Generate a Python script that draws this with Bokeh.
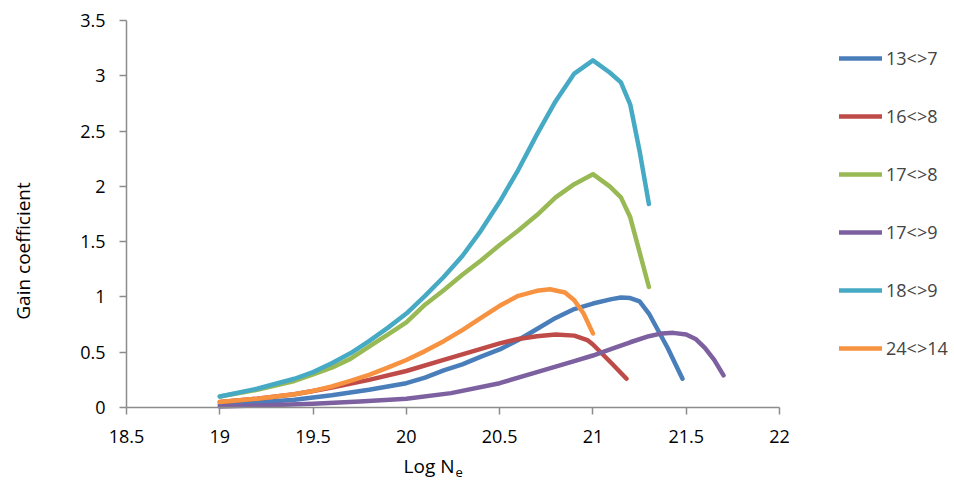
import math
from bokeh.plotting import figure
from bokeh.models import Range1d, Legend, LegendItem, Label, FixedTicker
from bokeh.embed import file_html
from bokeh.resources import INLINE

# ---- data ----
x_13_7 = [19.0, 19.2, 19.4, 19.5, 19.6, 19.8, 20.0, 20.1, 20.2, 20.3, 20.4, 20.5, 20.6, 20.7, 20.8, 20.9, 21.0, 21.1, 21.15, 21.2, 21.25, 21.3, 21.4, 21.48]
y_13_7 = [0.025, 0.045, 0.07, 0.09, 0.11, 0.16, 0.22, 0.27, 0.335, 0.39, 0.46, 0.525, 0.61, 0.71, 0.81, 0.89, 0.94, 0.98, 0.995, 0.99, 0.96, 0.85, 0.54, 0.26]

x_16_8 = [19.0, 19.2, 19.4, 19.5, 19.6, 19.8, 20.0, 20.2, 20.3, 20.4, 20.5, 20.6, 20.7, 20.8, 20.9, 20.97, 21.0, 21.1, 21.18]
y_16_8 = [0.05, 0.08, 0.12, 0.15, 0.18, 0.25, 0.33, 0.43, 0.48, 0.53, 0.58, 0.62, 0.645, 0.66, 0.65, 0.61, 0.57, 0.40, 0.26]

x_17_8 = [19.0, 19.2, 19.4, 19.5, 19.6, 19.7, 19.8, 19.9, 20.0, 20.1, 20.2, 20.3, 20.4, 20.5, 20.6, 20.7, 20.8, 20.9, 21.0, 21.09, 21.15, 21.2, 21.3]
y_17_8 = [0.10, 0.16, 0.24, 0.30, 0.36, 0.44, 0.55, 0.66, 0.77, 0.93, 1.06, 1.20, 1.33, 1.47, 1.60, 1.74, 1.90, 2.02, 2.11, 2.0, 1.9, 1.72, 1.09]

x_17_9 = [19.0, 19.25, 19.5, 19.75, 20.0, 20.24, 20.5, 20.7, 20.8, 20.9, 21.0, 21.1, 21.2, 21.3, 21.37, 21.43, 21.5, 21.55, 21.6, 21.65, 21.7]
y_17_9 = [0.01, 0.02, 0.035, 0.055, 0.08, 0.13, 0.22, 0.32, 0.37, 0.42, 0.47, 0.53, 0.59, 0.645, 0.67, 0.675, 0.66, 0.62, 0.54, 0.43, 0.29]

x_18_9 = [19.0, 19.2, 19.4, 19.5, 19.6, 19.7, 19.8, 19.9, 20.0, 20.1, 20.2, 20.3, 20.4, 20.5, 20.6, 20.7, 20.8, 20.9, 21.0, 21.09, 21.15, 21.2, 21.25, 21.3]
y_18_9 = [0.10, 0.17, 0.26, 0.32, 0.40, 0.49, 0.60, 0.72, 0.85, 1.01, 1.18, 1.37, 1.60, 1.86, 2.15, 2.47, 2.77, 3.02, 3.14, 3.03, 2.94, 2.74, 2.32, 1.84]

x_24_14 = [19.0, 19.2, 19.4, 19.5, 19.6, 19.7, 19.8, 19.9, 20.0, 20.1, 20.2, 20.3, 20.4, 20.5, 20.6, 20.7, 20.77, 20.85, 20.9, 20.95, 21.0]
y_24_14 = [0.05, 0.08, 0.12, 0.15, 0.19, 0.24, 0.295, 0.36, 0.43, 0.51, 0.60, 0.70, 0.81, 0.92, 1.01, 1.055, 1.07, 1.04, 0.97, 0.85, 0.67]

series_names = ["13<>7", "16<>8", "17<>8", "17<>9", "18<>9", "24<>14"]
series_x = [x_13_7, x_16_8, x_17_8, x_17_9, x_18_9, x_24_14]
series_y = [y_13_7, y_16_8, y_17_8, y_17_9, y_18_9, y_24_14]
colors = ["#4a7ebb", "#be4b48", "#98b954", "#7d60a0", "#46aac5", "#f69240"]

x_ticks = [18.5, 19, 19.5, 20, 20.5, 21, 21.5, 22]
y_ticks = [0, 0.5, 1, 1.5, 2, 2.5, 3, 3.5]
x_axis_span = (18.5, 22)
y_axis_span = (0, 3.5)

FONT = "Open Sans"
AXIS_COLOR = "#8c8c8c"

# ---- layout (pixels of the plotting area) ----
W, H = 954, 480
AX_LEFT, AX_RIGHT, AX_TOP, AX_BOTTOM = 126, 779, 20, 407
sx = (AX_RIGHT - AX_LEFT) / (x_axis_span[1] - x_axis_span[0])
sy = (AX_BOTTOM - AX_TOP) / (y_axis_span[1] - y_axis_span[0])
x_start = x_axis_span[0] - AX_LEFT / sx
x_end = x_axis_span[0] + (W - AX_LEFT) / sx
y_start = y_axis_span[0] - (H - AX_BOTTOM) / sy
y_end = y_axis_span[1] + AX_TOP / sy


def px_to_x(px):
    return x_start + px / sx


def px_to_y(py):
    return y_start + (H - py) / sy


p = figure(width=W, height=H, output_backend="svg", toolbar_location=None,
           x_range=Range1d(x_start, x_end), y_range=Range1d(y_start, y_end),
           min_border=0, min_border_left=0, min_border_right=0,
           min_border_top=0, min_border_bottom=0)
p.outline_line_color = None
p.xgrid.visible = False
p.ygrid.visible = False
p.background_fill_color = "white"
p.border_fill_color = "white"

for ax in (p.xaxis[0], p.yaxis[0]):
    ax.axis_line_color = AXIS_COLOR
    ax.axis_line_width = 1.5
    ax.major_tick_line_color = AXIS_COLOR
    ax.major_tick_line_width = 1.5
    ax.major_tick_out = 7
    ax.major_tick_in = 0
    ax.minor_tick_line_color = None
    ax.major_label_text_font = FONT
    ax.major_label_text_font_size = "18px"
    ax.major_label_text_color = "black"

p.xaxis.bounds = x_axis_span
p.yaxis.bounds = y_axis_span
p.xaxis.fixed_location = y_axis_span[0]
p.yaxis.fixed_location = x_axis_span[0]
p.xaxis.ticker = FixedTicker(ticks=x_ticks)
p.yaxis.ticker = FixedTicker(ticks=y_ticks)
p.xaxis.major_label_overrides = {t: ("%g" % t) for t in x_ticks}
p.yaxis.major_label_overrides = {t: ("%g" % t) for t in y_ticks}
p.xaxis.major_label_standoff = 15
p.yaxis.major_label_standoff = 14

items = []
for name, xs, ys, c in zip(series_names, series_x, series_y, colors):
    r = p.line(xs, ys, line_color=c, line_width=4.5, line_join="round", line_cap="round")
    items.append(LegendItem(label=name, renderers=[r]))

legend = Legend(items=items, location=(839, 120), orientation="vertical",
                glyph_width=43, glyph_height=20, label_height=20, label_standoff=4,
                spacing=34, padding=0, margin=0,
                label_text_font=FONT, label_text_font_size="18px",
                border_line_color=None, background_fill_alpha=0)
p.add_layout(legend, "center")

# axis titles
p.add_layout(Label(x=px_to_x(22), y=px_to_y(248), text="Gain  coefficient", angle=math.pi / 2,
                   text_align="center", text_baseline="middle",
                   text_font=FONT, text_font_size="19px", text_color="black"))
p.add_layout(Label(x=px_to_x(454), y=px_to_y(465), text="Log N", text_align="right",
                   text_baseline="middle",
                   text_font=FONT, text_font_size="19px", text_color="black"))
p.add_layout(Label(x=px_to_x(455), y=px_to_y(472), text="e", text_align="left",
                   text_baseline="middle",
                   text_font=FONT, text_font_size="13px", text_color="black"))

open("out.html", "w").write(file_html(p, INLINE))
